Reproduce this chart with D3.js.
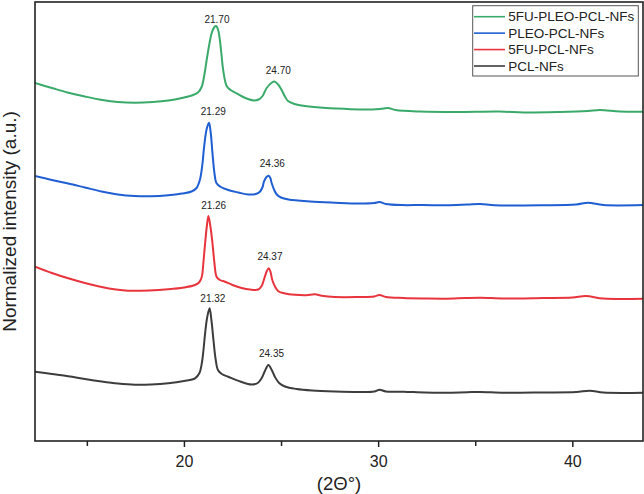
<!DOCTYPE html>
<html>
<head>
<meta charset="utf-8">
<script src="https://cdn.jsdelivr.net/npm/d3@7"></script>
<style>
  html, body { margin: 0; padding: 0; background: #fff; }
  svg { display: block; font-family: "Liberation Sans", Arial, sans-serif; }
</style>
</head>
<body>
<svg id="chart" width="644" height="494"></svg>
<script>
// ---------- data ----------
const seriesNames = ["5FU-PLEO-PCL-NFs", "PLEO-PCL-NFs", "5FU-PCL-NFs", "PCL-NFs"];
const seriesColors = ["#3aaa6a", "#1f5fd2", "#e8343c", "#3d3d3d"];

// [2θ (deg), normalized intensity (a.u., stacked/offset)]
const green5FUPLEO = [[12.33,358],[13.2,353],[14.0,348.5],[14.9,344.5],[15.8,341],[16.6,339],[17.5,338.3],[18.4,339],[19.2,340.5],[19.9,343],[20.4,345.5],[20.72,348.5],[20.91,354],[21.05,366],[21.17,381],[21.3,396],[21.43,408],[21.57,414],[21.66,415],[21.76,411],[21.85,401],[21.93,387],[22.02,371],[22.2,355],[22.4,351],[22.63,348.5],[23.0,344.5],[23.3,342],[23.6,340.5],[23.85,341.5],[24.05,345],[24.26,353],[24.5,358],[24.66,359.5],[24.87,356],[25.03,351],[25.2,344.5],[25.36,340],[25.7,337],[26.06,335.5],[27.0,333.5],[27.78,332.5],[29.06,331.5],[30.1,332],[30.5,333],[30.9,331],[32.15,329.5],[34.0,329],[36.27,329.5],[37.5,328.5],[39.36,329],[40.8,330],[41.42,331],[42.45,329.5],[43.64,329.3]];
const bluePLEO = [[12.33,265],[13.2,261],[14.04,257.5],[14.9,253.5],[15.76,249.5],[16.6,246.5],[17.48,245],[18.3,244.8],[19.19,245.8],[19.9,247.5],[20.39,249.5],[20.65,253],[20.82,261],[20.94,275],[21.04,294.3],[21.17,312],[21.29,318.3],[21.38,308],[21.47,287.7],[21.57,268],[21.68,257.7],[21.9,254],[22.28,251],[22.8,248.5],[23.31,246.5],[23.7,247],[23.91,249.3],[24.05,254],[24.12,259.3],[24.25,264],[24.36,265.3],[24.45,263],[24.52,257.7],[24.65,251],[24.78,246.5],[25.0,243.5],[25.38,241.5],[26.5,239.5],[27.78,238.3],[29.0,237.5],[29.8,238],[30.07,239],[30.4,237],[31.26,235.9],[32.3,236],[33.5,235.7],[34.6,236.5],[35.26,237],[36.0,235.7],[38.5,235.7],[40.2,236.5],[40.81,238.3],[41.6,236],[43.64,236]];
const red5FU = [[12.33,174.3],[13.2,168],[14.04,162.7],[14.9,158],[15.76,154],[16.5,151.5],[17.13,150.3],[18.2,150.5],[19.19,151.7],[20.0,153.5],[20.57,156],[20.8,159],[20.92,164.3],[21.0,178],[21.09,197.7],[21.18,215],[21.26,225],[21.36,215],[21.47,197.7],[21.57,178],[21.68,164.3],[21.85,161],[22.11,159.3],[22.5,156],[22.97,153],[23.4,151.5],[23.83,151.5],[24.0,155],[24.14,162.7],[24.27,170],[24.37,172.7],[24.46,169],[24.55,161],[24.7,154],[24.86,149.8],[25.2,147.5],[25.72,146.2],[26.3,145.8],[26.75,146.7],[27.1,145.2],[27.78,144],[29.0,144],[29.8,144.5],[30.07,146],[30.4,144],[31.3,143],[32.4,142.5],[33.5,142.3],[34.5,143],[35.26,143.3],[36.5,142.5],[38.5,143],[40.0,143.5],[40.7,145],[41.6,142.5],[43.64,142.3]];
const blackPCL = [[12.33,69.3],[13.2,67],[14.04,64.8],[14.9,62],[15.76,59.5],[16.6,57.5],[17.48,56.3],[18.3,56.5],[19.19,57.7],[20.0,60],[20.57,62.7],[20.8,68],[20.92,77.7],[21.0,90],[21.09,107.7],[21.2,124],[21.32,132.7],[21.42,120],[21.52,101],[21.63,82],[21.75,71],[21.95,67],[22.28,64.3],[22.9,59.5],[23.48,56.5],[23.8,58],[24.0,62.7],[24.17,70],[24.35,76],[24.52,71],[24.68,64.3],[24.9,58],[25.2,54.5],[25.8,52],[26.6,50.5],[27.78,49.5],[29.0,49],[29.8,49.5],[30.07,51.3],[30.4,49.5],[31.3,49.3],[32.4,48.5],[33.5,48.3],[34.6,48.8],[35.26,49],[36.5,48.2],[38.5,48.5],[40.2,49],[40.9,50.3],[41.6,48.5],[43.64,48.3]];
const seriesData = [green5FUPLEO, bluePLEO, red5FU, blackPCL];

// peak annotations
const peakLabels = ["21.70","24.70","21.29","24.36","21.26","24.37","21.32","24.35"];
const peakLabelX = [21.70, 24.86, 21.51, 24.55, 21.53, 24.43, 21.49, 24.51];
const peakLabelY = [418, 367, 326, 274, 232, 181, 139, 84];

const majorTicks = [20, 30, 40];
const minorTicks = [15, 25, 35];
const xDomain = [12.33, 43.64];
const yDomain = [0, 439];
const xTitle = "(2\u0398\u00B0)";
const yTitle = "Normalized intensity (a.u.)";

// ---------- drawing ----------
const svg = d3.select("#chart");
const L = 35, R = 643, T = 2, B = 441;

const x = d3.scaleLinear().domain(xDomain).range([L, R]);
const y = d3.scaleLinear().domain(yDomain).range([B, T]);

svg.append("defs").append("clipPath").attr("id", "clip")
  .append("rect").attr("x", L).attr("y", T).attr("width", R - L).attr("height", B - T);

const line = d3.line().x(d => x(d[0])).y(d => y(d[1])).curve(d3.curveCatmullRom.alpha(0.5));

svg.append("g").attr("clip-path", "url(#clip)")
  .selectAll("path").data(seriesData).join("path")
  .attr("d", line)
  .attr("fill", "none")
  .attr("stroke", (d, i) => seriesColors[i])
  .attr("stroke-width", 2)
  .attr("stroke-linejoin", "round");

// peak labels
svg.append("g").selectAll("text").data(peakLabels).join("text")
  .attr("x", (d, i) => x(peakLabelX[i]))
  .attr("y", (d, i) => y(peakLabelY[i]))
  .attr("text-anchor", "middle")
  .attr("font-size", 10)
  .attr("fill", "#222")
  .text(d => d);

// axes
const xAxis = d3.axisBottom(x).tickValues(majorTicks).tickSize(6).tickPadding(9).tickFormat(d3.format("d"));
const gx = svg.append("g").attr("transform", `translate(0,${B})`).call(xAxis);
gx.select(".domain").remove();
gx.selectAll(".tick line").attr("stroke", "#222").attr("stroke-width", 1.5);
gx.selectAll(".tick text").attr("font-size", 16).attr("fill", "#222")
  .attr("font-family", "'Liberation Sans', Arial, sans-serif");

const xMinor = d3.axisBottom(x).tickValues(minorTicks).tickSize(5).tickFormat("");
const gm = svg.append("g").attr("transform", `translate(0,${B})`).call(xMinor);
gm.select(".domain").remove();
gm.selectAll(".tick line").attr("stroke", "#222").attr("stroke-width", 1.5);

// frame
svg.append("rect").attr("x", L).attr("y", T).attr("width", R - L).attr("height", B - T)
  .attr("fill", "none").attr("stroke", "#222").attr("stroke-width", 1.6);

// titles
svg.append("text").attr("x", (L + R) / 2).attr("y", 490)
  .attr("text-anchor", "middle").attr("font-size", 18.5).attr("fill", "#222").text(xTitle);
svg.append("text").attr("transform", `translate(15.5,${(T + B) / 2}) rotate(-90)`)
  .attr("text-anchor", "middle").attr("font-size", 19).attr("fill", "#222").text(yTitle);

// legend
const lg = svg.append("g");
lg.append("rect").attr("x", 472.7).attr("y", 5.7).attr("width", 165.6).attr("height", 70.3)
  .attr("fill", "#fff").attr("stroke", "#555").attr("stroke-width", 1);
const rowY = d3.scalePoint().domain(seriesNames).range([16.7, 66]);
seriesNames.forEach((name, i) => {
  lg.append("line").attr("x1", 474).attr("x2", 505).attr("y1", rowY(name)).attr("y2", rowY(name))
    .attr("stroke", seriesColors[i]).attr("stroke-width", 1.6);
  lg.append("text").attr("x", 508.3).attr("y", rowY(name)).attr("dy", "0.35em")
    .attr("font-size", 13.5).attr("fill", "#222").text(name);
});
</script>
</body>
</html>
